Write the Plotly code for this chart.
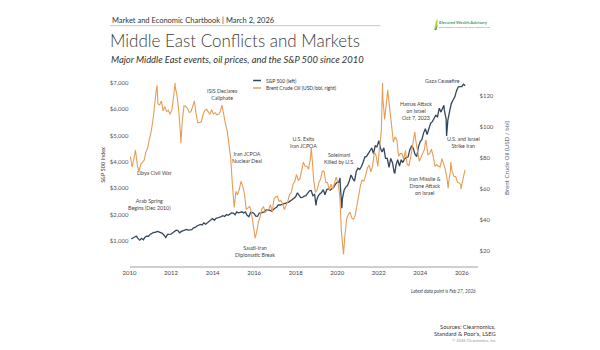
import plotly.graph_objects as go
import pandas as pd

# ---------------- DATA ----------------
# S&P 500 month-end closes, Jan 2010 .. Feb 2026
sp_monthly = [
    1074, 1104, 1169, 1187, 1089, 1031, 1102, 1049, 1141, 1183, 1181, 1258,   # 2010
    1286, 1327, 1326, 1364, 1345, 1321, 1292, 1219, 1131, 1253, 1247, 1258,   # 2011
    1312, 1366, 1408, 1398, 1310, 1362, 1379, 1407, 1441, 1412, 1416, 1426,   # 2012
    1498, 1515, 1569, 1598, 1631, 1606, 1686, 1633, 1682, 1757, 1806, 1848,   # 2013
    1783, 1859, 1872, 1884, 1924, 1960, 1931, 2003, 1972, 2018, 2068, 2059,   # 2014
    1995, 2105, 2068, 2086, 2107, 2063, 2104, 1972, 1920, 2079, 2080, 2044,   # 2015
    1940, 1932, 2060, 2065, 2097, 2099, 2174, 2171, 2168, 2126, 2199, 2239,   # 2016
    2279, 2364, 2363, 2384, 2412, 2423, 2470, 2472, 2519, 2575, 2648, 2674,   # 2017
    2824, 2714, 2641, 2648, 2705, 2718, 2816, 2902, 2914, 2712, 2760, 2507,   # 2018
    2704, 2784, 2834, 2946, 2752, 2942, 2980, 2926, 2977, 3038, 3141, 3231,   # 2019
    3226, 2954, 2585, 2912, 3044, 3100, 3271, 3500, 3363, 3270, 3622, 3756,   # 2020
    3714, 3811, 3973, 4181, 4204, 4298, 4395, 4523, 4308, 4605, 4567, 4766,   # 2021
    4516, 4374, 4530, 4132, 4132, 3785, 4130, 3955, 3586, 3872, 4080, 3840,   # 2022
    4077, 3970, 4109, 4169, 4180, 4450, 4589, 4508, 4288, 4194, 4568, 4770,   # 2023
    4846, 5096, 5254, 5036, 5278, 5460, 5522, 5648, 5762, 5705, 6032, 5882,   # 2024
    6041, 5955, 5612, 5569, 5912, 6205, 6339, 6460, 6688, 6840, 6849, 6845,   # 2025
    6940, 6880,                                                               # 2026
]
# intra-month S&P 500 extremes
sp_extra_dates = ["2018-12-24", "2020-02-19", "2020-03-23", "2022-01-03",
                  "2022-10-12", "2025-02-19", "2025-04-08", "2026-02-27"]
sp_extra_vals = [2351, 3386, 2237, 4797, 3577, 6144, 4982, 6880]

# Brent crude monthly averages (USD/bbl), Jan 2010 .. Feb 2026
oil_monthly = [
    80.5, 73.8, 78.8, 84.8, 75.9, 70.5, 75.6, 77.1, 78.2, 83.5, 86.1, 92.0,   # 2010
    96.5, 103.7, 114.6, 123.3, 114.5, 113.9, 116.5, 110.1, 112.8, 109.6, 110.5, 107.9,  # 2011
    110.7, 119.3, 125.5, 119.8, 110.3, 95.2, 102.6, 113.4, 112.9, 111.7, 109.1, 109.5,  # 2012
    112.9, 116.5, 108.5, 102.3, 102.6, 102.9, 107.4, 110.3, 111.2, 109.1, 107.8, 110.8,  # 2013
    108.1, 108.9, 107.5, 107.8, 109.5, 113.8, 106.8, 101.6, 97.1, 87.4, 79.4, 62.3,     # 2014
    47.8, 58.1, 55.9, 59.5, 64.6, 61.5, 56.6, 46.5, 47.6, 48.4, 44.3, 38.0,             # 2015
    30.7, 32.2, 38.2, 41.6, 46.7, 48.3, 44.7, 45.7, 46.6, 49.5, 44.8, 53.3,             # 2016
    54.6, 54.9, 51.6, 52.3, 50.3, 46.4, 48.5, 51.7, 56.2, 57.4, 62.7, 64.4,             # 2017
    69.1, 65.3, 66.0, 72.1, 76.9, 74.4, 74.3, 72.5, 78.9, 81.0, 64.8, 57.4,             # 2018
    59.4, 64.0, 66.1, 71.2, 71.1, 63.9, 63.9, 59.0, 62.8, 59.7, 63.2, 67.3,             # 2019
    63.7, 55.7, 32.0, 21.0, 29.4, 40.3, 43.2, 44.7, 40.9, 40.2, 43.0, 49.9,             # 2020
    54.8, 62.3, 65.4, 64.8, 68.5, 73.2, 75.2, 70.8, 74.5, 83.5, 81.1, 74.2,             # 2021
    86.5, 97.1, 117.3, 104.6, 113.3, 120.7, 111.9, 100.5, 89.8, 93.3, 91.4, 80.9,       # 2022
    82.5, 82.6, 78.4, 84.6, 75.5, 74.8, 80.1, 86.2, 93.7, 90.6, 82.9, 77.6,             # 2023
    80.1, 83.5, 85.4, 89.9, 81.8, 82.6, 85.3, 80.9, 74.3, 75.4, 74.4, 73.9,             # 2024
    79.3, 75.2, 72.6, 66.5, 64.2, 71.4, 71.0, 67.9, 67.6, 64.0, 63.6, 62.5,             # 2025
    65.0, 69.5,                                                                          # 2026
]
# intra-month Brent extremes
oil_extra_dates = ["2011-04-29", "2012-03-13", "2012-06-21", "2016-01-20",
                   "2018-10-03", "2020-04-21", "2022-03-08", "2022-06-08",
                   "2023-09-27", "2024-04-05", "2025-05-05", "2025-06-20",
                   "2025-12-16", "2026-02-27"]
oil_extra_vals = [126.6, 128.1, 89.2, 27.9, 86.3, 17.5, 128.0, 123.6,
                  96.6, 91.2, 60.2, 77.0, 59.5, 72.0]

event_labels = [
    "Libya Civil War",
    "Arab Spring<br>Begins (Dec 2010)",
    "ISIS Declares<br>Caliphate",
    "Iran JCPOA<br>Nuclear Deal",
    "Saudi-Iran<br>Diplomatic Break",
    "U.S. Exits<br>Iran JCPOA",
    "Soleimani<br>Killed by U.S.",
    "Hamas Attack<br>on Israel<br>Oct 7, 2023",
    "Gaza Ceasefire",
    "U.S. and Israel<br>Strike Iran",
    "Iran Missile &<br>Drone Attack<br>on Israel",
]

sp_ticks = [1000, 2000, 3000, 4000, 5000, 6000, 7000]
sp_ticktext = ["$1,000", "$2,000", "$3,000", "$4,000", "$5,000", "$6,000", "$7,000"]
oil_ticks = [20, 40, 60, 80, 100, 120]
oil_ticktext = ["$20", "$40", "$60", "$80", "$100", "$120"]
year_ticks = ["2010", "2012", "2014", "2016", "2018", "2020", "2022", "2024", "2026"]

# ---------------- BUILD SERIES ----------------
sp_dates = pd.date_range("2010-01-01", periods=len(sp_monthly), freq="MS") + pd.offsets.MonthEnd(0)
sp = pd.concat([pd.Series(sp_monthly, index=sp_dates),
                pd.Series(sp_extra_vals, index=pd.to_datetime(sp_extra_dates))])
sp = sp[~sp.index.duplicated(keep="last")].sort_index()

oil_dates = pd.date_range("2010-01-01", periods=len(oil_monthly), freq="MS") + pd.Timedelta(days=14)
oil = pd.concat([pd.Series(oil_monthly, index=oil_dates),
                 pd.Series(oil_extra_vals, index=pd.to_datetime(oil_extra_dates))])
oil = oil[~oil.index.duplicated(keep="last")].sort_index()

W, H = 600, 350
def fx(px): return px / W
def fy(py): return 1 - py / H

FONT = "Lato"
SP_COLOR = "#34465a"
OIL_COLOR = "#e59d58"

fig = go.Figure()
fig.add_trace(go.Scatter(x=oil.index, y=oil.values, mode="lines", yaxis="y2",
                         line=dict(color=OIL_COLOR, width=1.1), name="Brent Crude Oil (USD/bbl, right)"))
fig.add_trace(go.Scatter(x=sp.index, y=sp.values, mode="lines",
                         line=dict(color=SP_COLOR, width=1.3), name="S&P 500 (left)"))

x_left, x_right = 124, 477
y_top, y_bot = 75, 266

fig.update_layout(
    width=W, height=H,
    margin=dict(l=0, r=0, t=0, b=0),
    paper_bgcolor="white", plot_bgcolor="white",
    showlegend=False,
    font=dict(family=FONT, color="#444"),
    xaxis=dict(domain=[fx(x_left), fx(x_right)], type="date",
               range=["2010-01-01", "2026-10-20"],
               tickvals=[f"{y}-01-01" for y in year_ticks], ticktext=year_ticks,
               showgrid=False, zeroline=False, showline=True, linecolor="#cfcfcf", linewidth=2,
               ticks="", tickfont=dict(size=6, color="#444", family=FONT)),
    yaxis=dict(domain=[fy(y_bot), fy(y_top)], range=[53, 7288],
               tickvals=sp_ticks, ticktext=sp_ticktext,
               showgrid=False, zeroline=False, showline=False, ticks="",
               tickfont=dict(size=6, color="#555", family=FONT)),
    yaxis2=dict(overlaying="y", side="right", range=[10, 133.2],
                tickvals=oil_ticks, ticktext=oil_ticktext,
                showgrid=False, zeroline=False, showline=False, ticks="",
                tickfont=dict(size=6, color="#555", family=FONT)),
)

ann = []
def text(x, y, s, size, color="#444", xanchor="center", italic=False, angle=0, weight=None, family=FONT):
    f = dict(size=size, color=color, family=family)
    if italic:
        f["style"] = "italic"
    if weight:
        f["weight"] = weight
    ann.append(dict(x=fx(x), y=fy(y), xref="paper", yref="paper", text=s, showarrow=False,
                    xanchor=xanchor, yanchor="middle", font=f, textangle=angle, align=xanchor if xanchor != "center" else "center"))

# header
text(104, 20, "Market and Economic Chartbook | March 2, 2026", 7.5, "#333", xanchor="left")
text(102, 41, "Middle East Conflicts and Markets", 17, "#3b3b3b", xanchor="left", weight=300)
text(103, 59, "Major Middle East events, oil prices, and the S&P 500 since 2010", 9.4, "#333", xanchor="left", italic=True)
# logo text
text(435, 22.5, "Elevated Wealth Advisory", 4.2, "#4a9a5a", xanchor="left", weight=700)
text(435, 27, "Developing & Preserving Value Planners Plan", 2.6, "#777", xanchor="left")

# axis titles
text(97, 165, "S&P 500 Index", 5.5, "#444", angle=-90)
text(505, 158, "Brent Crude Oil (USD / bbl)", 6.2, "#566789", angle=-90)

# legend text
text(260, 80.5, "S&P 500 (left)", 5, "#333", xanchor="left")
text(260, 88, "Brent Crude Oil (USD/bbl, right)", 5, "#333", xanchor="left")

# event annotations (label centers in px)
event_pos = [(149, 173), (144, 204), (218, 95), (243, 157.5), (251, 251),
             (300, 142.5), (336, 158), (414, 111.5), (441, 81), (462, 142.5), (423, 185.5)]
for lab, (x, y) in zip(event_labels, event_pos):
    text(x, y, lab, 5.3, "#444")

# footer
text(407, 291, "Latest data point is Feb 27, 2026", 4.7, "#444", xanchor="left", italic=True)
text(497, 326, "Sources: Clearnomics,", 5.8, "#333", xanchor="right")
text(497, 333, "Standard & Poor's, LSEG", 5.8, "#333", xanchor="right")
text(497, 340.5, "© 2026 Clearnomics, Inc.", 4, "#999", xanchor="right")

fig.update_layout(annotations=ann)

shapes = [
    # header rule
    dict(type="line", xref="paper", yref="paper", x0=fx(104), x1=fx(378), y0=fy(25.7), y1=fy(25.7),
         line=dict(color="#c8c8c8", width=1)),
    # legend samples
    dict(type="line", xref="paper", yref="paper", x0=fx(249), x1=fx(257), y0=fy(80.5), y1=fy(80.5),
         line=dict(color=SP_COLOR, width=1.5)),
    dict(type="line", xref="paper", yref="paper", x0=fx(249), x1=fx(257), y0=fy(88), y1=fy(88),
         line=dict(color=OIL_COLOR, width=1.5)),
    # logo icon
    dict(type="path", xref="paper", yref="paper",
         path=f"M {fx(432)} {fy(30)} L {fx(434)} {fy(21)} L {fx(436)} {fy(19)} L {fx(435)} {fy(26)} Z",
         fillcolor="#b8d432", line=dict(width=0)),
    dict(type="path", xref="paper", yref="paper",
         path=f"M {fx(432.5)} {fy(30)} L {fx(436)} {fy(24)} L {fx(434.5)} {fy(30)} Z",
         fillcolor="#3a9a5a", line=dict(width=0)),
]
fig.update_layout(shapes=shapes)

fig.write_html("out.html")
